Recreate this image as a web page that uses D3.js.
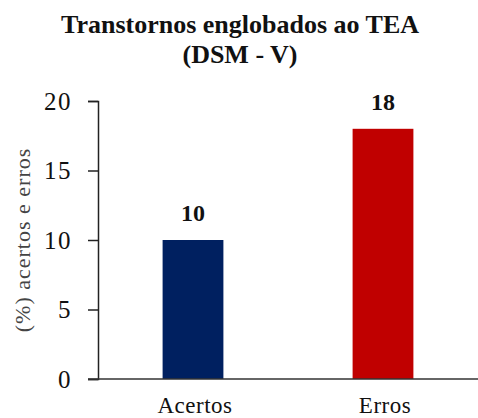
<!DOCTYPE html>
<html>
<head>
<meta charset="utf-8">
<script src="https://cdn.jsdelivr.net/npm/d3@7"></script>
<style>
  body { margin: 0; background: #fff; }
  text { font-family: "Liberation Serif", "Times New Roman", serif; }
</style>
</head>
<body>
<svg id="chart"></svg>
<script>
// data
var categories = ["Acertos", "Erros"];
var values = [10, 18];
var barColors = ["#002060", "#C00000"];
var yTicks = [0, 5, 10, 15, 20];

var width = 478,
    height = 418;

var svg = d3.select("#chart")
    .attr("width", width)
    .attr("height", height);

// title
var title = svg.append("text")
    .attr("x", 240)
    .attr("y", 33)
    .style("text-anchor", "middle")
    .style("font-weight", "bold")
    .style("font-size", "26px")
    .style("fill", "#111");
title.append("tspan").attr("x", 240).text("Transtornos englobados ao TEA");
title.append("tspan").attr("x", 240).attr("dy", 30).text("(DSM - V)");

var y = d3.scaleLinear()
    .domain([0, 20])
    .range([379, 101]);

var x = d3.scaleBand()
    .domain(categories)
    .range([98, 478])
    .paddingInner(0.68)
    .paddingOuter(0.34);

// bars
svg.selectAll(".bar")
    .data(values)
    .enter()
    .append("rect")
    .attr("class", "bar")
    .attr("x", function(d, i) { return x(categories[i]); })
    .attr("width", x.bandwidth())
    .attr("y", function(d) { return y(d); })
    .attr("height", function(d) { return y(0) - y(d); })
    .attr("fill", function(d, i) { return barColors[i]; });

// value labels
svg.selectAll(".val")
    .data(values)
    .enter()
    .append("text")
    .attr("class", "val")
    .attr("x", function(d, i) { return x(categories[i]) + x.bandwidth() / 2; })
    .attr("y", function(d) { return y(d) - 19; })
    .style("text-anchor", "middle")
    .style("font-weight", "bold")
    .style("font-size", "24px")
    .style("fill", "#111")
    .text(function(d) { return d; });

// y axis
var yAxis = svg.append("g")
    .attr("transform", "translate(98,0)")
    .call(d3.axisLeft(y).tickValues(yTicks).tickSize(10).tickPadding(16));
yAxis.select(".domain").attr("stroke", "#222").attr("stroke-width", 1.5);
yAxis.selectAll(".tick line").attr("stroke", "#222").attr("stroke-width", 1.5);
yAxis.selectAll(".tick text")
    .style("font-family", "'Liberation Serif', serif")
    .style("font-size", "25px")
    .style("letter-spacing", "1.5px")
    .style("fill", "#111");

// x axis line
svg.append("line")
    .attr("x1", 88)
    .attr("x2", width)
    .attr("y1", y(0))
    .attr("y2", y(0))
    .attr("stroke", "#333")
    .attr("stroke-width", 1.5);

// category labels
svg.selectAll(".cat")
    .data(categories)
    .enter()
    .append("text")
    .attr("class", "cat")
    .attr("x", function(d) { return x(d) + x.bandwidth() / 2 + 2; })
    .attr("y", 413)
    .style("text-anchor", "middle")
    .style("font-size", "23px")
    .style("letter-spacing", "0.5px")
    .style("fill", "#111")
    .text(function(d) { return d; });

// y axis title
svg.append("text")
    .attr("transform", "translate(30,240) rotate(-90)")
    .style("text-anchor", "middle")
    .style("font-size", "22px")
    .style("letter-spacing", "1px")
    .style("fill", "#444")
    .text("(%) acertos e erros");
</script>
</body>
</html>
